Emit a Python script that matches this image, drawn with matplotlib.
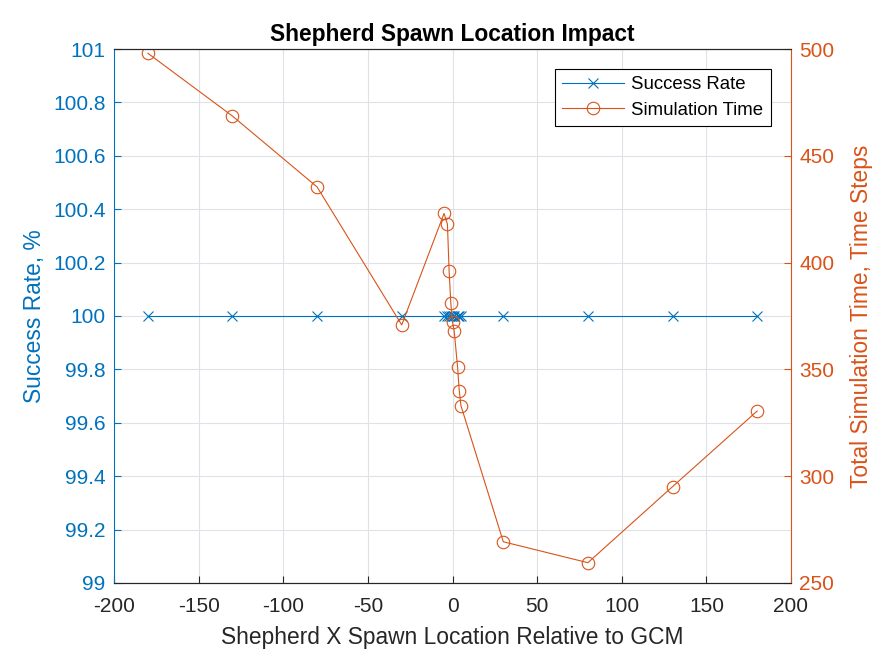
import numpy as np
import matplotlib.pyplot as plt

plt.rcParams['font.family'] = ['Liberation Sans', 'DejaVu Sans']
plt.rcParams['axes.unicode_minus'] = False

# spawn offsets (x) relative to GCM
x_offset = [-180, -130, -80, -30, -5, -3, -2, -1, 0, 1, 3, 4, 5, 30, 80, 130, 180]
success_rate = [100] * len(x_offset)
sim_time = [498, 468.6, 435.4, 370.8, 423, 418, 396, 381, 372, 368, 351, 340, 333,
            269.3, 259.5, 295.1, 330.5]

blue = '#0072BD'
orange = '#D95319'

fig = plt.figure(figsize=(8.75, 6.56), dpi=100)
ax = fig.add_axes([0.1303, 0.1113, 0.904 - 0.1303, 0.9253 - 0.1113])
ax2 = ax.twinx()

l1, = ax.plot(x_offset, success_rate, color=blue, lw=0.8, marker='x', ms=7, mew=0.8)
l2, = ax2.plot(x_offset, sim_time, color=orange, lw=0.8, marker='o', ms=9,
               mfc='none', mew=0.8)

ax.set_xlim(-200, 200)
ax.set_xticks(np.arange(-200, 201, 50))
ax.set_ylim(99, 101)
ax.set_yticks(np.arange(99, 101.01, 0.2))
ax.set_yticklabels(['99', '99.2', '99.4', '99.6', '99.8', '100', '100.2', '100.4',
                    '100.6', '100.8', '101'])
ax2.set_ylim(250, 500)
ax2.set_yticks(np.arange(250, 501, 50))

ax.grid(True, color='#dfe3e8', lw=0.8)
ax.set_axisbelow(True)

for a in (ax, ax2):
    a.tick_params(direction='in', labelsize=15, length=5, width=0.8)
ax.tick_params(axis='y', colors=blue, pad=6)
ax.tick_params(axis='x', colors='#262626', pad=10)
ax2.tick_params(axis='y', colors=orange, pad=6)
ax.spines['left'].set_color(blue)
ax2.spines['left'].set_visible(False)
ax2.spines['right'].set_color(orange)
ax.spines['right'].set_visible(False)
for s in ('top', 'bottom'):
    ax.spines[s].set_color('#262626')
    ax2.spines[s].set_color('#262626')

ax.set_xlabel('Shepherd X Spawn Location Relative to GCM', fontsize=16.4,
              color='#262626', labelpad=7)
ax.set_ylabel('Success Rate, %', fontsize=16.4, color=blue, labelpad=5)
ax2.set_ylabel('Total Simulation Time, Time Steps', fontsize=16.4, color=orange,
               labelpad=11)
ax.set_title('Shepherd Spawn Location Impact', fontsize=16.4, fontweight='bold', pad=6)

leg = ax2.legend([l1, l2], ['Success Rate', 'Simulation Time'], loc='upper right',
                 bbox_to_anchor=(0.97, 0.963), fontsize=13.4, fancybox=False,
                 framealpha=1, edgecolor='black', handlelength=3.3, borderpad=0.4,
                 labelspacing=0.45, handletextpad=0.4, borderaxespad=0)
leg.get_frame().set_linewidth(0.8)

fig.savefig('out.png', dpi=100)
